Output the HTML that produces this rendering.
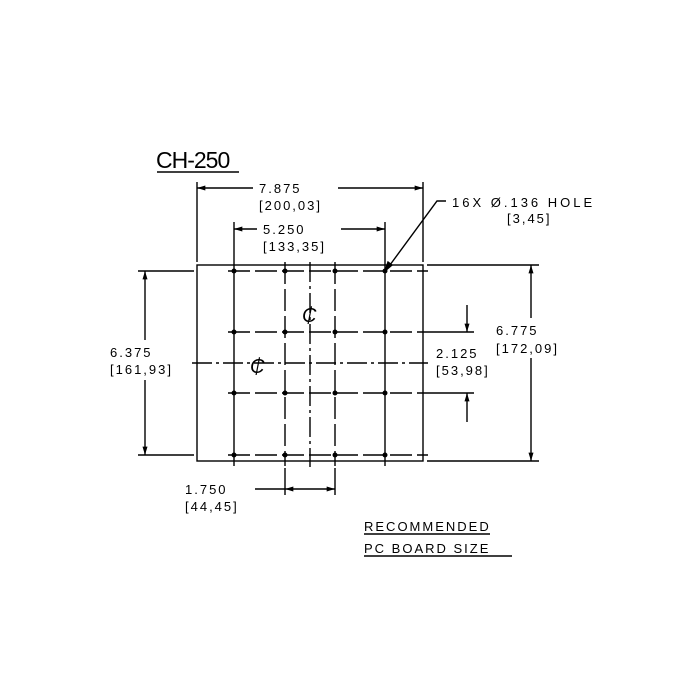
<!DOCTYPE html>
<html><head><style>body{margin:0;background:#fff}svg{display:block}text{font-family:"Liberation Sans",sans-serif;font-size:13px;letter-spacing:2px;fill:#000}</style></head>
<body>
<svg width="700" height="700" viewBox="0 0 700 700" xmlns="http://www.w3.org/2000/svg">
<defs><marker id="a" viewBox="0 0 10 6" refX="10" refY="3" markerWidth="10" markerHeight="5" orient="auto-start-reverse" markerUnits="userSpaceOnUse"><path d="M0,0L10,3L0,6z" fill="#000"/></marker></defs>
<g stroke="#000" stroke-width="1.4" fill="none">
<rect x="197" y="265" width="226" height="196"/>
<g stroke-dasharray="22,5">
<line x1="228" y1="271" x2="428" y2="271"/><line x1="228" y1="332" x2="428" y2="332"/>
<line x1="228" y1="393" x2="428" y2="393"/><line x1="228" y1="455" x2="428" y2="455"/>
<line x1="285" y1="262" x2="285" y2="466"/><line x1="335" y1="262" x2="335" y2="466"/>
</g>
<line x1="234" y1="262" x2="234" y2="466"/><line x1="385" y1="262" x2="385" y2="466"/>
<g stroke-dasharray="20,4,3,4">
<line x1="310" y1="262" x2="310" y2="467"/><line x1="192" y1="363" x2="428" y2="363"/>
</g>
<line x1="197" y1="182" x2="197" y2="262"/><line x1="423" y1="182" x2="423" y2="262"/>
<line x1="253" y1="188" x2="197" y2="188" marker-end="url(#a)"/><line x1="338" y1="188" x2="423" y2="188" marker-end="url(#a)"/>
<line x1="234" y1="222" x2="234" y2="262"/><line x1="385" y1="222" x2="385" y2="262"/>
<line x1="257" y1="229" x2="234" y2="229" marker-end="url(#a)"/><line x1="341" y1="229" x2="385" y2="229" marker-end="url(#a)"/>
<polyline points="446,201 437,201 387,269" /><path d="M385,271l3,-9l4,3z" fill="#000"/>
<line x1="138" y1="271" x2="194" y2="271"/><line x1="138" y1="455" x2="194" y2="455"/>
<line x1="145" y1="340" x2="145" y2="271" marker-end="url(#a)"/><line x1="145" y1="380" x2="145" y2="455" marker-end="url(#a)"/>
<line x1="427" y1="265" x2="539" y2="265"/><line x1="427" y1="461" x2="539" y2="461"/>
<line x1="531" y1="318" x2="531" y2="265" marker-end="url(#a)"/><line x1="531" y1="358" x2="531" y2="461" marker-end="url(#a)"/>
<line x1="428" y1="332" x2="474" y2="332"/><line x1="428" y1="393" x2="474" y2="393"/>
<line x1="467" y1="305" x2="467" y2="332" marker-end="url(#a)"/><line x1="467" y1="422" x2="467" y2="393" marker-end="url(#a)"/>
<line x1="285" y1="468" x2="285" y2="495"/><line x1="335" y1="468" x2="335" y2="495"/>
<line x1="255" y1="489" x2="285" y2="489"/><line x1="305" y1="489" x2="285" y2="489" marker-end="url(#a)"/><line x1="305" y1="489" x2="335" y2="489" marker-end="url(#a)"/>
<line x1="157" y1="172" x2="239" y2="172" stroke-width="1.5"/>
<line x1="364" y1="534" x2="490" y2="534"/><line x1="364" y1="556" x2="512" y2="556"/>
</g>
<g fill="#000">
<circle cx="234" cy="271" r="2.5"/><circle cx="285" cy="271" r="2.5"/><circle cx="335" cy="271" r="2.5"/><circle cx="385" cy="271" r="2.5"/>
<circle cx="234" cy="332" r="2.5"/><circle cx="285" cy="332" r="2.5"/><circle cx="335" cy="332" r="2.5"/><circle cx="385" cy="332" r="2.5"/>
<circle cx="234" cy="393" r="2.5"/><circle cx="285" cy="393" r="2.5"/><circle cx="335" cy="393" r="2.5"/><circle cx="385" cy="393" r="2.5"/>
<circle cx="234" cy="455" r="2.5"/><circle cx="285" cy="455" r="2.5"/><circle cx="335" cy="455" r="2.5"/><circle cx="385" cy="455" r="2.5"/>
</g>
<text x="156" y="168" style="font-size:23px;letter-spacing:-1px">CH-250</text>
<text x="259" y="193">7.875</text><text x="259" y="210">[200,03]</text>
<text x="263" y="234">5.250</text><text x="263" y="251">[133,35]</text>
<text x="452" y="207" style="letter-spacing:3px">16X Ø.136  HOLE</text><text x="507" y="223">[3,45]</text>
<text x="110" y="357">6.375</text><text x="110" y="374">[161,93]</text>
<text x="496" y="335">6.775</text><text x="496" y="353">[172,09]</text>
<text x="436" y="358">2.125</text><text x="436" y="375">[53,98]</text>
<text x="185" y="494">1.750</text><text x="185" y="511">[44,45]</text>
<text x="364" y="531">RECOMMENDED</text><text x="364" y="553">PC BOARD SIZE</text>
<text x="302" y="322" style="font-size:20px;font-style:italic;letter-spacing:0">₵</text>
<text x="250" y="373" style="font-size:20px;font-style:italic;letter-spacing:0">₵</text>
</svg>
</body></html>
